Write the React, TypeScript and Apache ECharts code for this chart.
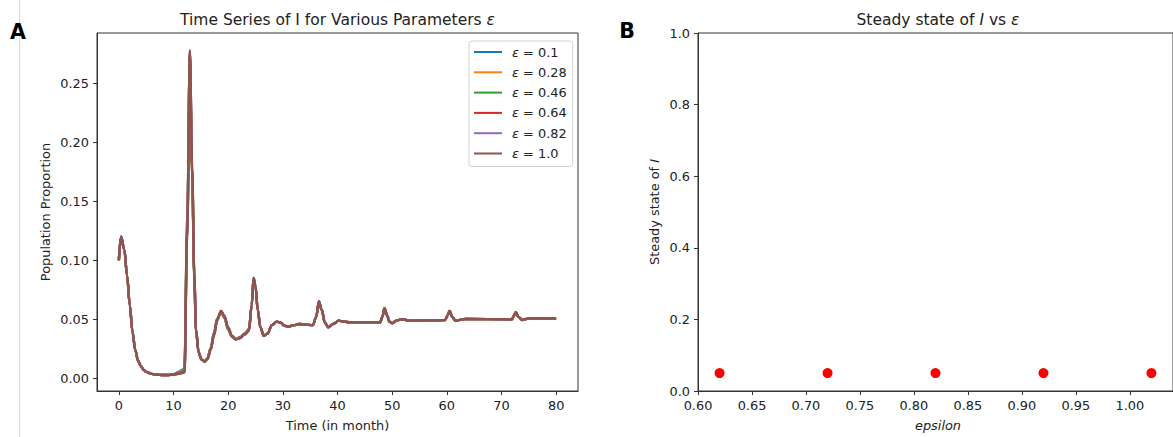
import { useEffect, useRef } from "react";
import * as echarts from "echarts";

// ---------- data ----------
const epsilonLabels = ["0.1", "0.28", "0.46", "0.64", "0.82", "1.0"];

// common start of every run (months, proportion)
const headTimes = [0, 0.4, 1, 1.5, 2, 2.5, 3, 3.5, 4, 4.5, 5, 6, 7, 8, 9];
const headValues = [0.1, 0.12, 0.109, 0.087, 0.062, 0.039, 0.024, 0.015, 0.0105, 0.0073, 0.0054, 0.0037, 0.003, 0.0027, 0.0028];

// section where the runs differ slightly
const midTimes = [10, 11, 11.5, 12, 12.5, 13, 13.4, 13.8, 14.1, 14.6, 15.1, 15.7, 16.2, 16.8, 17.4, 18.0, 18.7, 19.3, 20.0, 20.7, 21.4, 22.2, 23.0, 23.8];
const midEps010 = [0.0035, 0.0055, 0.0068, 0.0085, 0.135, 0.27, 0.172, 0.084, 0.04, 0.0215, 0.016, 0.0145, 0.017, 0.026, 0.039, 0.051, 0.056, 0.051, 0.041, 0.035, 0.033, 0.035, 0.038, 0.042];
const midEps028 = [0.0033, 0.005, 0.006, 0.0075, 0.13, 0.272, 0.174, 0.086, 0.0405, 0.0215, 0.016, 0.0143, 0.0167, 0.0255, 0.038, 0.0505, 0.0565, 0.0515, 0.0415, 0.0352, 0.033, 0.0347, 0.0377, 0.0415];
const midEps046 = [0.0032, 0.0046, 0.0054, 0.0066, 0.127, 0.274, 0.176, 0.087, 0.041, 0.0217, 0.016, 0.0142, 0.0165, 0.025, 0.0375, 0.05, 0.0567, 0.052, 0.042, 0.0355, 0.033, 0.0345, 0.0375, 0.041];
const midEps064 = [0.0031, 0.0043, 0.0049, 0.0058, 0.124, 0.276, 0.178, 0.088, 0.0415, 0.0218, 0.016, 0.0141, 0.0163, 0.0245, 0.037, 0.0497, 0.0569, 0.0525, 0.0425, 0.0357, 0.033, 0.0343, 0.0373, 0.0405];
const midEps082 = [0.003, 0.004, 0.0045, 0.0052, 0.122, 0.277, 0.179, 0.089, 0.0418, 0.022, 0.016, 0.014, 0.0161, 0.0242, 0.0365, 0.0493, 0.057, 0.0528, 0.0428, 0.0358, 0.033, 0.0341, 0.0371, 0.0402];
const midEps100 = [0.003, 0.0038, 0.0042, 0.0048, 0.12, 0.278, 0.18, 0.09, 0.042, 0.022, 0.016, 0.014, 0.016, 0.024, 0.036, 0.049, 0.057, 0.053, 0.043, 0.036, 0.033, 0.034, 0.037, 0.04];

// common tail of every run
const tailTimes = [24.3, 24.65, 25.0, 25.4, 25.9, 26.5, 27.2, 28.0, 28.9, 29.6, 30.3, 31.0, 32.0, 33.0, 34.0, 35.5, 36.1, 36.6, 37.1, 37.7, 38.3, 39.2, 40.2, 41.2, 42.3, 47.8, 48.2, 48.6, 49.1, 49.5, 50.0, 50.8, 51.8, 53.3, 59.7, 60.1, 60.5, 61.0, 61.6, 62.4, 63.4, 71.9, 72.3, 72.6, 73.1, 73.8, 74.5, 75.3, 80.0];
const tailValues = [0.062, 0.085, 0.078, 0.058, 0.043, 0.036, 0.038, 0.045, 0.048, 0.047, 0.0445, 0.0437, 0.045, 0.046, 0.0455, 0.045, 0.052, 0.065, 0.058, 0.047, 0.0432, 0.046, 0.0488, 0.048, 0.0474, 0.0474, 0.052, 0.0593, 0.053, 0.048, 0.0466, 0.049, 0.05, 0.0488, 0.0494, 0.053, 0.057, 0.052, 0.0486, 0.0495, 0.0503, 0.05, 0.053, 0.056, 0.052, 0.0494, 0.0502, 0.0508, 0.0505];

const midValuesByRun = [midEps010, midEps028, midEps046, midEps064, midEps082, midEps100];

const timeTicks = [0, 10, 20, 30, 40, 50, 60, 70, 80];
const proportionTicks = [0, 0.05, 0.1, 0.15, 0.2, 0.25];

// panel B
const epsilonPoints = [0.62, 0.72, 0.82, 0.92, 1.02];
const steadyStateValues = [0.05, 0.05, 0.05, 0.05, 0.05];
const epsilonTicks = [0.6, 0.65, 0.7, 0.75, 0.8, 0.85, 0.9, 0.95, 1.0];

// ---------- styles ----------
const lineColors = ["#1f77b4", "#ff7f0e", "#2ca02c", "#d62728", "#9467bd", "#8c564b"];
const FONT = "DejaVu Sans";
const AXIS_COLOR = "#333";
const TEXT_COLOR = "#222";
const TICK_FS = 12.9;

function buildRun(mid: number[]): [number, number][] {
  const pts: [number, number][] = [];
  headTimes.forEach((t, i) => pts.push([t, headValues[i]]));
  midTimes.forEach((t, i) => pts.push([t, mid[i]]));
  tailTimes.forEach((t, i) => pts.push([t, tailValues[i]]));
  return pts;
}

export default function App() {
  const ref = useRef<HTMLDivElement>(null);

  useEffect(() => {
    if (!ref.current) return;
    const chart = echarts.init(ref.current, null, { renderer: "svg" });

    const axisCommon = {
      axisLine: { show: true, onZero: false, lineStyle: { color: AXIS_COLOR, width: 1 } },
      axisTick: { show: true, length: 4, lineStyle: { color: AXIS_COLOR } },
      splitLine: { show: false },
    };
    const labelCommon = { color: TEXT_COLOR, fontFamily: FONT, fontSize: TICK_FS };

    const lineSeries = midValuesByRun.map((mid, i) => ({
      name: `ε = ${epsilonLabels[i]}`,
      type: "line",
      xAxisIndex: 0,
      yAxisIndex: 0,
      data: buildRun(mid),
      showSymbol: false,
      smooth: 0.35,
      smoothMonotone: "x",
      lineStyle: { width: 2.4, color: lineColors[i] },
      itemStyle: { color: lineColors[i] },
      z: 2 + i,
    }));

    const italic = { fontStyle: "italic", fontFamily: FONT };

    chart.setOption({
      animation: false,
      backgroundColor: "#fff",
      grid: [
        { left: 97, top: 33, width: 481, height: 358, show: true, borderColor: AXIS_COLOR, borderWidth: 1, backgroundColor: "transparent" },
        { left: 698, top: 33, width: 485, height: 358, show: true, borderColor: AXIS_COLOR, borderWidth: 1, backgroundColor: "transparent" },
      ],
      xAxis: [
        {
          type: "value", gridIndex: 0, min: -4, max: 84, ...axisCommon,
          axisTick: { ...axisCommon.axisTick, customValues: timeTicks },
          axisLabel: { ...labelCommon, margin: 8, customValues: timeTicks, formatter: (v: number) => String(v) },
        },
        {
          type: "value", gridIndex: 1, min: 0.6, max: 1.04, ...axisCommon,
          axisTick: { ...axisCommon.axisTick, customValues: epsilonTicks },
          axisLabel: { ...labelCommon, margin: 8, customValues: epsilonTicks, formatter: (v: number) => v.toFixed(2) },
        },
      ],
      yAxis: [
        {
          type: "value", gridIndex: 0, min: -0.0108, max: 0.2926, ...axisCommon,
          axisTick: { ...axisCommon.axisTick, customValues: proportionTicks },
          axisLabel: { ...labelCommon, margin: 8, customValues: proportionTicks, formatter: (v: number) => v.toFixed(2) },
        },
        {
          type: "value", gridIndex: 1, min: 0, max: 1, interval: 0.2, ...axisCommon,
          axisLabel: { ...labelCommon, margin: 8, formatter: (v: number) => v.toFixed(1) },
        },
      ],
      legend: {
        orient: "vertical",
        left: 469,
        top: 41,
        padding: [4, 6, 6, 5],
        itemWidth: 28,
        itemHeight: 2,
        itemGap: 6.3,
        icon: "rect",
        backgroundColor: "rgba(255,255,255,0.8)",
        borderColor: "#d0d0d0",
        borderWidth: 1,
        borderRadius: 3,
        data: epsilonLabels.map((l) => `ε = ${l}`),
        formatter: (name: string) => name.replace("ε", "{i|ε}"),
        textStyle: {
          color: TEXT_COLOR, fontFamily: FONT, fontSize: TICK_FS, lineHeight: 14,
          padding: [0, 0, 0, 5],
          rich: { i: { ...italic, fontSize: TICK_FS, color: TEXT_COLOR, lineHeight: 14 } },
        },
      },
      series: [
        ...lineSeries,
        {
          name: "steady",
          type: "scatter",
          xAxisIndex: 1,
          yAxisIndex: 1,
          data: epsilonPoints.map((e, i) => [e, steadyStateValues[i]]),
          symbolSize: 10,
          itemStyle: { color: "#ff0000", opacity: 1 },
          z: 5,
        },
      ],
      graphic: [
        { type: "line", shape: { x1: 19.5, y1: 0, x2: 19.5, y2: 437 }, style: { stroke: "#d8d8d8", lineWidth: 1 }, silent: true },
        { type: "text", x: 18, y: 32, style: { text: "A", fontFamily: FONT, fontWeight: "bold", fontSize: 20.6, fill: "#000", align: "center", verticalAlign: "middle" } },
        { type: "text", x: 627, y: 31, style: { text: "B", fontFamily: FONT, fontWeight: "bold", fontSize: 20.6, fill: "#000", align: "center", verticalAlign: "middle" } },
        {
          type: "text", x: 337.5, y: 19.5,
          style: {
            text: "Time Series of I for Various Parameters {i|ε}", fontFamily: FONT, fontSize: 15.5, fill: TEXT_COLOR,
            align: "center", verticalAlign: "middle",
            rich: { i: { ...italic, fontSize: 15.5, fill: TEXT_COLOR } },
          },
        },
        {
          type: "text", x: 938, y: 19.5,
          style: {
            text: "Steady state of {i|I} vs {i|ε}", fontFamily: FONT, fontSize: 15.5, fill: TEXT_COLOR,
            align: "center", verticalAlign: "middle",
            rich: { i: { ...italic, fontSize: 15.5, fill: TEXT_COLOR } },
          },
        },
        { type: "text", x: 337.5, y: 425, style: { text: "Time (in month)", fontFamily: FONT, fontSize: TICK_FS, fill: TEXT_COLOR, align: "center", verticalAlign: "middle" } },
        { type: "text", x: 938, y: 425, style: { text: "epsilon", fontFamily: FONT, fontStyle: "italic", fontSize: TICK_FS, fill: TEXT_COLOR, align: "center", verticalAlign: "middle" } },
        { type: "text", x: 45, y: 212, rotation: Math.PI / 2, style: { text: "Population Proportion", fontFamily: FONT, fontSize: TICK_FS, fill: TEXT_COLOR, align: "center", verticalAlign: "middle" } },
        {
          type: "text", x: 654, y: 212, rotation: Math.PI / 2,
          style: {
            text: "Steady state of {i|I}", fontFamily: FONT, fontSize: TICK_FS, fill: TEXT_COLOR, align: "center", verticalAlign: "middle",
            rich: { i: { ...italic, fontSize: TICK_FS, fill: TEXT_COLOR } },
          },
        },
      ],
    });

    return () => chart.dispose();
  }, []);

  return <div ref={ref} style={{ position: "absolute", left: 0, top: 0, width: 1173, height: 437 }} />;
}
